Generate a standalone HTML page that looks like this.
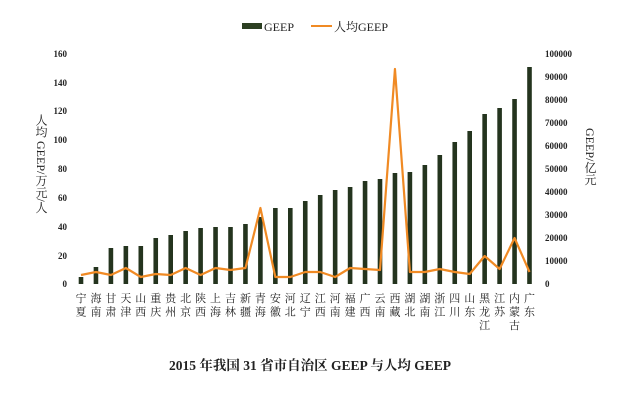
<!DOCTYPE html>
<html><head><meta charset="utf-8"><style>
body{margin:0;background:#fff;}
svg{display:block;}
text{font-family:"Liberation Serif","Noto Serif CJK SC",serif;fill:#222;}
.t{font-family:"Liberation Sans","Noto Sans CJK SC",sans-serif;font-size:9px;font-weight:bold;fill:#333;}
.c{font-family:"Noto Sans CJK SC",sans-serif;font-size:11px;fill:#222;}
</style></head><body>
<svg width="620" height="400" viewBox="0 0 620 400" xmlns="http://www.w3.org/2000/svg">
<rect x="242" y="23" width="20" height="6" fill="#2c3f22"/>
<text x="264" y="31" font-size="12">GEEP</text>
<line x1="311" y1="26" x2="332" y2="26" stroke="#f08a24" stroke-width="2"/>
<text x="334" y="31" font-size="12">人均GEEP</text>
<g class="t" text-anchor="end">
<text x="67" y="57">160</text><text x="67" y="86">140</text><text x="67" y="114">120</text><text x="67" y="143">100</text><text x="67" y="172">80</text><text x="67" y="201">60</text><text x="67" y="230">40</text><text x="67" y="259">20</text><text x="67" y="287">0</text>
</g>
<g class="t">
<text x="545" y="57">100000</text><text x="545" y="80">90000</text><text x="545" y="103">80000</text><text x="545" y="126">70000</text><text x="545" y="149">60000</text><text x="545" y="172">50000</text><text x="545" y="195">40000</text><text x="545" y="218">30000</text><text x="545" y="241">20000</text><text x="545" y="264">10000</text><text x="545" y="287">0</text>
</g>
<text x="41" y="114" font-size="12" style="writing-mode:vertical-rl">人均 GEEP/万元/人</text>
<text x="590" y="128" font-size="12" style="writing-mode:vertical-rl">GEEP/亿元</text>
<g fill="#24341e">
<rect x="78.7" y="277" width="4.6" height="7"/>
<rect x="93.65" y="267" width="4.6" height="17"/>
<rect x="108.6" y="248" width="4.6" height="36"/>
<rect x="123.55" y="246" width="4.6" height="38"/>
<rect x="138.5" y="246" width="4.6" height="38"/>
<rect x="153.45" y="238" width="4.6" height="46"/>
<rect x="168.4" y="235" width="4.6" height="49"/>
<rect x="183.35" y="231" width="4.6" height="53"/>
<rect x="198.3" y="228" width="4.6" height="56"/>
<rect x="213.25" y="227" width="4.6" height="57"/>
<rect x="228.2" y="227" width="4.6" height="57"/>
<rect x="243.15" y="224" width="4.6" height="60"/>
<rect x="258.1" y="217" width="4.6" height="67"/>
<rect x="273.05" y="208" width="4.6" height="76"/>
<rect x="288.0" y="208" width="4.6" height="76"/>
<rect x="302.95" y="201" width="4.6" height="83"/>
<rect x="317.9" y="195" width="4.6" height="89"/>
<rect x="332.85" y="190" width="4.6" height="94"/>
<rect x="347.8" y="187" width="4.6" height="97"/>
<rect x="362.75" y="181" width="4.6" height="103"/>
<rect x="377.7" y="179" width="4.6" height="105"/>
<rect x="392.65" y="173" width="4.6" height="111"/>
<rect x="407.6" y="172" width="4.6" height="112"/>
<rect x="422.55" y="165" width="4.6" height="119"/>
<rect x="437.5" y="155" width="4.6" height="129"/>
<rect x="452.45" y="142" width="4.6" height="142"/>
<rect x="467.4" y="131" width="4.6" height="153"/>
<rect x="482.35" y="114" width="4.6" height="170"/>
<rect x="497.3" y="108" width="4.6" height="176"/>
<rect x="512.25" y="99" width="4.6" height="185"/>
<rect x="527.2" y="67" width="4.6" height="217"/>
</g>
<polyline fill="none" stroke="#f08a24" stroke-width="2.2" stroke-linejoin="round" points="81,275 95.95,272 110.9,275 125.85,268 140.8,277 155.75,274 170.7,275 185.65,268 200.6,275 215.55,268 230.5,270 245.45,268 260.4,208 275.35,277 290.3,277 305.25,272 320.2,272 335.15,277 350.1,268 365.05,269 380,270 394.95,69 409.9,272 424.85,272 439.8,269 454.75,272 469.7,274 484.65,256 499.6,269 514.55,238 529.5,272"/>
<g class="c" text-anchor="middle">
<text x="81" y="302">宁</text><text x="81" y="315.5">夏</text>
<text x="95.95" y="302">海</text><text x="95.95" y="315.5">南</text>
<text x="110.9" y="302">甘</text><text x="110.9" y="315.5">肃</text>
<text x="125.85" y="302">天</text><text x="125.85" y="315.5">津</text>
<text x="140.8" y="302">山</text><text x="140.8" y="315.5">西</text>
<text x="155.75" y="302">重</text><text x="155.75" y="315.5">庆</text>
<text x="170.7" y="302">贵</text><text x="170.7" y="315.5">州</text>
<text x="185.65" y="302">北</text><text x="185.65" y="315.5">京</text>
<text x="200.6" y="302">陕</text><text x="200.6" y="315.5">西</text>
<text x="215.55" y="302">上</text><text x="215.55" y="315.5">海</text>
<text x="230.5" y="302">吉</text><text x="230.5" y="315.5">林</text>
<text x="245.45" y="302">新</text><text x="245.45" y="315.5">疆</text>
<text x="260.4" y="302">青</text><text x="260.4" y="315.5">海</text>
<text x="275.35" y="302">安</text><text x="275.35" y="315.5">徽</text>
<text x="290.3" y="302">河</text><text x="290.3" y="315.5">北</text>
<text x="305.25" y="302">辽</text><text x="305.25" y="315.5">宁</text>
<text x="320.2" y="302">江</text><text x="320.2" y="315.5">西</text>
<text x="335.15" y="302">河</text><text x="335.15" y="315.5">南</text>
<text x="350.1" y="302">福</text><text x="350.1" y="315.5">建</text>
<text x="365.05" y="302">广</text><text x="365.05" y="315.5">西</text>
<text x="380" y="302">云</text><text x="380" y="315.5">南</text>
<text x="394.95" y="302">西</text><text x="394.95" y="315.5">藏</text>
<text x="409.9" y="302">湖</text><text x="409.9" y="315.5">北</text>
<text x="424.85" y="302">湖</text><text x="424.85" y="315.5">南</text>
<text x="439.8" y="302">浙</text><text x="439.8" y="315.5">江</text>
<text x="454.75" y="302">四</text><text x="454.75" y="315.5">川</text>
<text x="469.7" y="302">山</text><text x="469.7" y="315.5">东</text>
<text x="484.65" y="302">黑</text><text x="484.65" y="315.5">龙</text><text x="484.65" y="329">江</text>
<text x="499.6" y="302">江</text><text x="499.6" y="315.5">苏</text>
<text x="514.55" y="302">内</text><text x="514.55" y="315.5">蒙</text><text x="514.55" y="329">古</text>
<text x="529.5" y="302">广</text><text x="529.5" y="315.5">东</text>
</g>
<text x="310" y="370" font-size="13.5" font-weight="bold" text-anchor="middle">2015 年我国 31 省市自治区 GEEP 与人均 GEEP</text>
</svg>
</body></html>
